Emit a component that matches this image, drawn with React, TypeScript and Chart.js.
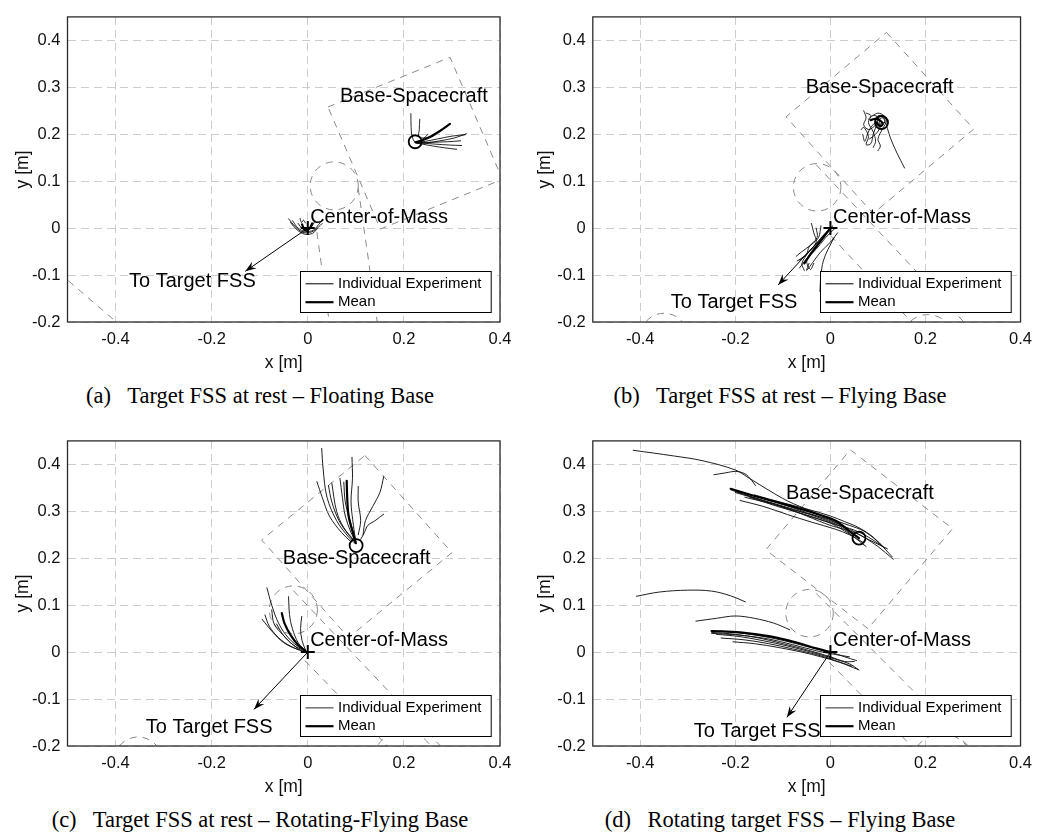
import React, { useEffect, useRef } from "react";
import { Chart, registerables } from "chart.js";

Chart.register(...registerables);

type P = [number, number];
type Circ = [number, number, number];

// ---------- shared axes ----------
const X_TICKS = [-0.4, -0.2, 0, 0.2, 0.4];
const Y_TICKS = [-0.2, -0.1, 0, 0.1, 0.2, 0.3, 0.4];
const X_RANGE: P = [-0.5, 0.4];
const Y_RANGE: P = [-0.2, 0.45];
const COM: P = [0, 0];

// ---------- panel (a) : Target FSS at rest – Floating Base ----------
const aBaseSquare: P[] = [[0.042, 0.258], [0.296, 0.364], [0.405, 0.104], [0.151, -0.002], [0.042, 0.258]];
const aLinkLeft: P[] = [[0.019, -0.009], [0.046, -0.21]];
const aLinkRight: P[] = [[0.105, 0.085], [0.146, -0.21]];
const aTargetEdge: P[] = [[-0.56, -0.058], [-0.38, -0.216]];
const aCircles: Circ[] = [[0.055, 0.09, 0.05]];
const aBaseRuns: P[][] = [
  [[0.328, 0.199], [0.3, 0.196], [0.27, 0.19], [0.245, 0.185], [0.226, 0.182]],
  [[0.33, 0.201], [0.305, 0.192], [0.275, 0.186], [0.25, 0.182], [0.228, 0.181]],
  [[0.32, 0.176], [0.295, 0.177], [0.265, 0.179], [0.24, 0.181], [0.226, 0.182]],
  [[0.31, 0.168], [0.285, 0.171], [0.26, 0.175], [0.238, 0.179], [0.225, 0.181]],
  [[0.318, 0.186], [0.29, 0.184], [0.26, 0.183], [0.235, 0.182]],
  [[0.2146, 0.244], [0.215, 0.215], [0.217, 0.195], [0.222, 0.184]],
  [[0.233, 0.232], [0.232, 0.21], [0.231, 0.195], [0.24, 0.192], [0.26, 0.196]],
  [[0.25, 0.2], [0.24, 0.19], [0.228, 0.184]],
];
const aBaseMean: P[] = [[0.296, 0.222], [0.275, 0.207], [0.252, 0.193], [0.235, 0.186], [0.224, 0.183]];
const aComRuns: P[][] = [
  [[-0.04, 0.02], [-0.026, 0.003], [-0.01, -0.009], [0.008, -0.008], [0.022, 0.002], [0.03, 0.01]],
  [[-0.032, 0.016], [-0.02, 0.0], [-0.005, -0.007], [0.012, -0.004], [0.026, 0.012]],
  [[-0.036, 0.012], [-0.022, -0.004], [-0.006, -0.013], [0.01, -0.011], [0.02, -0.001]],
  [[-0.016, 0.021], [-0.013, 0.012], [-0.009, 0.017], [-0.005, 0.011]],
  [[-0.02, 0.01], [-0.01, -0.002], [0.005, 0.0], [0.015, 0.015]],
];
const aComMean: P[] = [[-0.012, 0.008], [-0.006, -0.004], [0.003, -0.002], [0.009, 0.01]];
const aBaseMarker: P = [0.2235, 0.184];
const aArrowTip: P = [-0.13, -0.092];

// ---------- panel (b) : Target FSS at rest – Flying Base ----------
const bBaseSquare: P[] = [[0.118, 0.417], [0.3015, 0.211], [0.09, 0.031], [-0.0935, 0.237], [0.118, 0.417]];
const bLinkUpper: P[] = [[-0.03, 0.135], [0.29, -0.21]];
const bLinkLower: P[] = [[0.0, -0.016], [0.18, -0.21]];
const bCircles: Circ[] = [[-0.028, 0.087, 0.05], [-0.35, -0.232, 0.05], [0.205, -0.24, 0.055]];
const bBaseRuns: P[][] = [
  [[0.07, 0.25], [0.075, 0.235], [0.07, 0.22], [0.08, 0.21], [0.09, 0.215], [0.1, 0.225]],
  [[0.075, 0.245], [0.085, 0.24], [0.08, 0.225], [0.09, 0.205], [0.095, 0.185], [0.09, 0.172]],
  [[0.12, 0.23], [0.11, 0.24], [0.095, 0.235], [0.1, 0.22], [0.115, 0.225], [0.12, 0.212], [0.127, 0.19], [0.14, 0.16], [0.156, 0.128]],
  [[0.068, 0.2], [0.072, 0.185], [0.078, 0.2], [0.085, 0.215], [0.1, 0.23], [0.11, 0.235], [0.115, 0.228]],
  [[0.09, 0.24], [0.1, 0.245], [0.112, 0.24], [0.118, 0.228], [0.11, 0.212], [0.1, 0.19], [0.105, 0.175], [0.1, 0.165]],
  [[0.065, 0.21], [0.07, 0.215], [0.08, 0.195], [0.075, 0.178], [0.085, 0.18], [0.09, 0.2], [0.098, 0.222]],
  [[0.095, 0.23], [0.105, 0.238], [0.115, 0.232], [0.108, 0.218], [0.096, 0.22], [0.1, 0.228]],
  [[0.08, 0.232], [0.09, 0.24], [0.1, 0.236], [0.104, 0.215], [0.095, 0.2], [0.082, 0.19]],
];
const bBaseMean: P[] = [[0.085, 0.23], [0.095, 0.233], [0.105, 0.229], [0.11, 0.222], [0.105, 0.217], [0.098, 0.224]];
const bComRuns: P[][] = [
  [[0.01, 0.0], [-0.01, -0.02], [-0.03, -0.045], [-0.05, -0.065], [-0.065, -0.085]],
  [[0.005, 0.005], [-0.015, -0.015], [-0.035, -0.04], [-0.055, -0.06], [-0.07, -0.07]],
  [[-0.04, 0.01], [-0.035, -0.01], [-0.03, -0.03], [-0.045, -0.05], [-0.06, -0.075], [-0.055, -0.09]],
  [[0.015, -0.01], [0.0, -0.03], [-0.02, -0.05], [-0.035, -0.07], [-0.05, -0.09], [-0.045, -0.075]],
  [[-0.02, 0.005], [-0.025, -0.02], [-0.04, -0.035], [-0.06, -0.05], [-0.072, -0.06]],
  [[0.008, -0.02], [-0.005, -0.045], [-0.015, -0.07], [-0.02, -0.1], [-0.022, -0.135]],
  [[0.0, 0.0], [-0.02, -0.025], [-0.04, -0.05], [-0.05, -0.07], [-0.042, -0.088], [-0.035, -0.075]],
  [[-0.03, 0.0], [-0.028, -0.02], [-0.045, -0.04], [-0.05, -0.055], [-0.065, -0.068]],
];
const bComMean: P[] = [[0.0, 0.0], [-0.015, -0.02], [-0.03, -0.04], [-0.045, -0.06], [-0.055, -0.075]];
const bBaseMarker: P = [0.1075, 0.225];
const bArrowTip: P = [-0.11, -0.121];

// ---------- panel (c) : Target FSS at rest – Rotating-Flying Base ----------
const cBaseSquare: P[] = [[0.119, 0.419], [0.3, 0.212], [0.085, 0.031], [-0.096, 0.239], [0.119, 0.419]];
const cLinkUpper: P[] = [[-0.03, 0.131], [0.29, -0.215]];
const cLinkLower: P[] = [[-0.006, -0.018], [0.18, -0.215]];
const cCircles: Circ[] = [[-0.03, 0.09, 0.05], [-0.353, -0.232, 0.05], [0.2, -0.235, 0.065]];
const cBaseRuns: P[][] = [
  [[0.029, 0.434], [0.032, 0.39], [0.04, 0.33], [0.06, 0.28], [0.085, 0.245], [0.098, 0.232]],
  [[0.092, 0.415], [0.093, 0.37], [0.09, 0.32], [0.095, 0.27], [0.1, 0.235]],
  [[0.019, 0.363], [0.03, 0.33], [0.045, 0.29], [0.07, 0.255], [0.09, 0.235]],
  [[0.043, 0.355], [0.05, 0.32], [0.065, 0.28], [0.085, 0.25], [0.1, 0.232]],
  [[0.067, 0.37], [0.072, 0.33], [0.078, 0.29], [0.09, 0.255], [0.1, 0.235]],
  [[0.105, 0.353], [0.105, 0.32], [0.11, 0.28], [0.105, 0.25]],
  [[0.158, 0.374], [0.15, 0.34], [0.135, 0.31], [0.12, 0.28], [0.115, 0.25]],
  [[0.158, 0.294], [0.14, 0.28], [0.125, 0.27], [0.118, 0.255], [0.11, 0.24]],
  [[0.05, 0.36], [0.06, 0.3], [0.075, 0.265], [0.095, 0.24]],
  [[0.075, 0.362], [0.078, 0.32], [0.088, 0.28], [0.098, 0.245]],
];
const cBaseMean: P[] = [[0.081, 0.365], [0.082, 0.33], [0.085, 0.29], [0.095, 0.25], [0.1, 0.232]];
const cComRuns: P[][] = [
  [[-0.085, 0.137], [-0.075, 0.1], [-0.06, 0.06], [-0.04, 0.03], [-0.015, 0.008], [0, 0]],
  [[-0.04, 0.118], [-0.038, 0.08], [-0.032, 0.05], [-0.02, 0.02], [-0.005, 0.003]],
  [[-0.089, 0.079], [-0.08, 0.055], [-0.06, 0.03], [-0.035, 0.012], [-0.01, 0.002]],
  [[-0.0125, 0.076], [-0.015, 0.05], [-0.012, 0.025], [-0.005, 0.005]],
  [[-0.075, 0.09], [-0.07, 0.06], [-0.05, 0.035], [-0.03, 0.015], [-0.008, 0.003]],
  [[-0.065, 0.06], [-0.05, 0.035], [-0.03, 0.015], [-0.01, 0.0]],
  [[-0.095, 0.07], [-0.075, 0.045], [-0.05, 0.02], [-0.02, 0.005]],
];
const cComMean: P[] = [[-0.054, 0.083], [-0.048, 0.06], [-0.035, 0.035], [-0.02, 0.015], [-0.005, 0.003]];
const cBaseMarker: P = [0.1006, 0.227];
const cArrowTip: P = [-0.112, -0.122];

// ---------- panel (d) : Rotating target FSS – Flying Base ----------
const dBaseSquare: P[] = [[0.042, 0.431], [0.257, 0.263], [0.079, 0.05], [-0.136, 0.218], [0.042, 0.431]];
const dLinkUpper: P[] = [[-0.03, 0.125], [0.3, -0.21]];
const dLinkLower: P[] = [[-0.003, -0.021], [0.18, -0.21]];
const dCircles: Circ[] = [[-0.044, 0.083, 0.05], [0.235, -0.24, 0.065]];
const dBaseRuns: P[][] = [
  [[-0.415, 0.43], [-0.33, 0.418], [-0.27, 0.408], [-0.2, 0.388], [-0.17, 0.37], [-0.13, 0.345], [-0.09, 0.322], [-0.04, 0.3], [0.0, 0.282], [0.03, 0.265], [0.06, 0.242]],
  [[-0.245, 0.378], [-0.22, 0.382], [-0.2, 0.385], [-0.18, 0.38], [-0.165, 0.365], [-0.158, 0.355]],
  [[-0.21, 0.348], [-0.15, 0.33], [-0.1, 0.315], [-0.05, 0.297], [0.0, 0.28], [0.04, 0.262], [0.07, 0.245], [0.1, 0.225], [0.132, 0.198]],
  [[-0.21, 0.346], [-0.15, 0.325], [-0.1, 0.31], [-0.05, 0.29], [0.0, 0.27], [0.05, 0.255], [0.08, 0.24], [0.12, 0.22]],
  [[-0.2, 0.34], [-0.14, 0.322], [-0.09, 0.305], [-0.04, 0.288], [0.01, 0.272], [0.05, 0.26], [0.08, 0.245], [0.11, 0.225]],
  [[-0.19, 0.323], [-0.14, 0.31], [-0.09, 0.293], [-0.04, 0.277], [0.01, 0.262], [0.04, 0.25], [0.07, 0.233]],
  [[-0.18, 0.33], [-0.12, 0.315], [-0.06, 0.298], [0.0, 0.283], [0.04, 0.27], [0.07, 0.258], [0.1, 0.235], [0.13, 0.203]],
  [[-0.16, 0.335], [-0.1, 0.318], [-0.05, 0.305], [0.0, 0.29], [0.03, 0.278], [0.06, 0.265], [0.09, 0.245], [0.115, 0.22]],
  [[-0.2, 0.342], [-0.13, 0.32], [-0.07, 0.302], [-0.02, 0.285], [0.02, 0.268], [0.05, 0.245], [0.075, 0.225]],
  [[-0.17, 0.33], [-0.11, 0.31], [-0.05, 0.292], [0.0, 0.275], [0.03, 0.258], [0.05, 0.245]],
];
const dBaseMean: P[] = [[-0.21, 0.348], [-0.15, 0.33], [-0.086, 0.312], [-0.03, 0.295], [0.011, 0.28], [0.046, 0.253], [0.06, 0.243]];
const dComRuns: P[][] = [
  [[-0.408, 0.119], [-0.36, 0.128], [-0.3, 0.132], [-0.25, 0.13], [-0.21, 0.12], [-0.179, 0.107]],
  [[-0.283, 0.066], [-0.24, 0.072], [-0.2, 0.077], [-0.16, 0.072], [-0.12, 0.062], [-0.086, 0.048]],
  [[-0.25, 0.046], [-0.2, 0.042], [-0.15, 0.035], [-0.1, 0.025], [-0.05, 0.012], [0.0, 0.0], [0.03, -0.01], [0.055, -0.018]],
  [[-0.25, 0.042], [-0.2, 0.038], [-0.15, 0.03], [-0.1, 0.018], [-0.05, 0.005], [0.0, -0.01], [0.03, -0.02], [0.05, -0.02]],
  [[-0.24, 0.038], [-0.19, 0.033], [-0.14, 0.024], [-0.09, 0.013], [-0.04, 0.0], [0.0, -0.012], [0.04, -0.025], [0.06, -0.038]],
  [[-0.23, 0.03], [-0.18, 0.026], [-0.13, 0.018], [-0.08, 0.007], [-0.03, -0.005], [0.01, -0.018], [0.045, -0.03]],
  [[-0.205, 0.022], [-0.16, 0.018], [-0.11, 0.01], [-0.06, 0.0], [-0.02, -0.01], [0.02, -0.022], [0.058, -0.037]],
  [[-0.25, 0.04], [-0.19, 0.036], [-0.13, 0.028], [-0.08, 0.016], [-0.03, 0.003], [0.01, -0.005], [0.04, -0.01]],
];
const dComMean: P[] = [[-0.25, 0.045], [-0.19, 0.042], [-0.13, 0.034], [-0.07, 0.02], [-0.03, 0.008], [0.0, 0.0]];
const dBaseMarker: P = [0.06, 0.243];
const dArrowTip: P = [-0.0915, -0.139];

// ---------- text ----------
const LABEL_BASE = "Base-Spacecraft";
const LABEL_COM = "Center-of-Mass";
const LABEL_TARGET = "To Target FSS";
const LEGEND_LABELS = ["Individual Experiment", "Mean"];

// ---------- style ----------
const SANS = "'Liberation Sans', Arial, Helvetica, sans-serif";
const SERIF = "'Liberation Serif', 'Times New Roman', Times, serif";
const GRID = "#cdcdcd";
const SHAPE = "#8a8a8a";
const TXT = "#111";

interface PanelCfg {
  tag: string;
  caption: string;
  left: number;
  top: number;
  yAxisWidth: number;
  rightPad: number;
  yTitlePad: number;
  outlines: P[][];
  circles: Circ[];
  baseRuns: P[][];
  baseMean: P[];
  comRuns: P[][];
  comMean: P[];
  baseMarker: P;
  arrowTip: P;
  baseLabel: P;
  comLabel: P;
  targetLabel: P;
  runColor: string;
  runWidth: number;
  legendRunColor: string;
  legendRunWidth: number;
}

const PANELS: PanelCfg[] = [
  {
    tag: "(a)", caption: "Target FSS at rest – Floating Base",
    left: 0, top: 0, yAxisWidth: 67.5, rightPad: 20, yTitlePad: 12.8,
    outlines: [aBaseSquare, aLinkLeft, aLinkRight, aTargetEdge], circles: aCircles,
    baseRuns: aBaseRuns, baseMean: aBaseMean, comRuns: aComRuns, comMean: aComMean,
    baseMarker: aBaseMarker, arrowTip: aArrowTip,
    baseLabel: [0.067, 0.281], comLabel: [0.005, 0.022], targetLabel: [-0.372, -0.113],
    runColor: "#000", runWidth: 0.85, legendRunColor: "#000", legendRunWidth: 1,
  },
  {
    tag: "(b)", caption: "Target FSS at rest – Flying Base",
    left: 520, top: 0, yAxisWidth: 72.8, rightPad: 13.3, yTitlePad: 14.8,
    outlines: [bBaseSquare, bLinkUpper, bLinkLower], circles: bCircles,
    baseRuns: bBaseRuns, baseMean: bBaseMean, comRuns: bComRuns, comMean: bComMean,
    baseMarker: bBaseMarker, arrowTip: bArrowTip,
    baseLabel: [-0.052, 0.299], comLabel: [0.0056, 0.022], targetLabel: [-0.336, -0.158],
    runColor: "#000", runWidth: 0.85, legendRunColor: "#000", legendRunWidth: 1,
  },
  {
    tag: "(c)", caption: "Target FSS at rest – Rotating-Flying Base",
    left: 0, top: 424, yAxisWidth: 67.5, rightPad: 20, yTitlePad: 12.8,
    outlines: [cBaseSquare, cLinkUpper, cLinkLower], circles: cCircles,
    baseRuns: cBaseRuns, baseMean: cBaseMean, comRuns: cComRuns, comMean: cComMean,
    baseMarker: cBaseMarker, arrowTip: cArrowTip,
    baseLabel: [-0.052, 0.199], comLabel: [0.005, 0.024], targetLabel: [-0.337, -0.16],
    runColor: "#141414", runWidth: 0.95, legendRunColor: "#7a7a7a", legendRunWidth: 1.6,
  },
  {
    tag: "(d)", caption: "Rotating target FSS – Flying Base",
    left: 520, top: 424, yAxisWidth: 72.8, rightPad: 13.3, yTitlePad: 14.8,
    outlines: [dBaseSquare, dLinkUpper, dLinkLower], circles: dCircles,
    baseRuns: dBaseRuns, baseMean: dBaseMean, comRuns: dComRuns, comMean: dComMean,
    baseMarker: dBaseMarker, arrowTip: dArrowTip,
    baseLabel: [-0.0935, 0.338], comLabel: [0.0056, 0.024], targetLabel: [-0.2875, -0.17],
    runColor: "#141414", runWidth: 0.95, legendRunColor: "#7a7a7a", legendRunWidth: 1.6,
  },
];

const CANVAS_W = 520;
const CANVAS_H = 380;

const toXY = (pts: P[]) => pts.map(([x, y]) => ({ x, y }));
const fmt = (v: number | string) => String(Math.round(Number(v) * 10) / 10);

function buildConfig(cfg: PanelCfg): any {
  const datasets: any[] = [];
  cfg.outlines.forEach((o) =>
    datasets.push({
      data: toXY(o), showLine: true, pointRadius: 0, borderColor: SHAPE, borderWidth: 1,
      borderDash: [7, 6], clip: 0, tension: 0, order: 5,
    })
  );
  const run = (pts: P[], color: string, width: number, order: number) => ({
    data: toXY(pts), showLine: true, pointRadius: 0, borderColor: color, borderWidth: width,
    tension: 0.35, order, borderCapStyle: "round", borderJoinStyle: "round",
  });
  cfg.baseRuns.forEach((r) => datasets.push(run(r, cfg.runColor, cfg.runWidth, 4)));
  cfg.comRuns.forEach((r) => datasets.push(run(r, cfg.runColor, cfg.runWidth, 4)));
  datasets.push(run(cfg.baseMean, "#000", 2.2, 3));
  datasets.push(run(cfg.comMean, "#000", 2.2, 3));
  datasets.push({
    data: toXY([COM, cfg.arrowTip]), showLine: true, pointRadius: 0, borderColor: "#000",
    borderWidth: 1, tension: 0, order: 2,
  });
  datasets.push({
    data: toXY([cfg.baseMarker]), showLine: false, pointStyle: "circle", pointRadius: 6.5,
    pointBorderWidth: 1.8, pointBorderColor: "#000", borderColor: "#000",
    pointBackgroundColor: "rgba(0,0,0,0)", backgroundColor: "rgba(0,0,0,0)", order: 1,
  });
  datasets.push({
    data: toXY([COM]), showLine: false, pointStyle: "cross", pointRadius: 7,
    pointBorderWidth: 2, pointBorderColor: "#000", borderColor: "#000", order: 1,
  });

  const overlay = {
    id: "overlay",
    beforeDatasetsDraw(chart: any) {
      const { ctx, chartArea: a, scales } = chart;
      const xs = scales.x, ys = scales.y;
      ctx.save();
      ctx.beginPath();
      ctx.rect(a.left, a.top, a.right - a.left, a.bottom - a.top);
      ctx.clip();
      ctx.setLineDash([7, 6]);
      ctx.strokeStyle = SHAPE;
      ctx.lineWidth = 1;
      cfg.circles.forEach(([cx, cy, r]) => {
        const px = xs.getPixelForValue(cx);
        const py = ys.getPixelForValue(cy);
        const pr = Math.abs(xs.getPixelForValue(cx + r) - px);
        ctx.beginPath();
        ctx.arc(px, py, pr, 0, Math.PI * 2);
        ctx.stroke();
      });
      ctx.restore();
    },
    afterDatasetsDraw(chart: any) {
      const { ctx, scales } = chart;
      const xs = scales.x, ys = scales.y;
      ctx.save();
      // arrow head
      const x0 = xs.getPixelForValue(COM[0]), y0 = ys.getPixelForValue(COM[1]);
      const tx = xs.getPixelForValue(cfg.arrowTip[0]), ty = ys.getPixelForValue(cfg.arrowTip[1]);
      const ang = Math.atan2(ty - y0, tx - x0);
      const L = 11, W = 4;
      const c = Math.cos(ang), s = Math.sin(ang);
      ctx.fillStyle = "#000";
      ctx.beginPath();
      ctx.moveTo(tx, ty);
      ctx.lineTo(tx - L * c + W * s, ty - L * s - W * c);
      ctx.lineTo(tx - 0.65 * L * c, ty - 0.65 * L * s);
      ctx.lineTo(tx - L * c - W * s, ty - L * s + W * c);
      ctx.closePath();
      ctx.fill();
      // text labels
      ctx.fillStyle = "#000";
      ctx.font = `20px ${SANS}`;
      ctx.textAlign = "left";
      ctx.textBaseline = "middle";
      const put = (t: string, p: P) => ctx.fillText(t, xs.getPixelForValue(p[0]), ys.getPixelForValue(p[1]));
      put(LABEL_BASE, cfg.baseLabel);
      put(LABEL_COM, cfg.comLabel);
      put(LABEL_TARGET, cfg.targetLabel);
      ctx.restore();
    },
    afterDraw(chart: any) {
      const { ctx, chartArea: a } = chart;
      ctx.save();
      // legend
      const bw = 190.7, bh = 41;
      const bx = Math.round(a.right - 9.5 - bw) + 0.5;
      const by = Math.round(a.bottom - 10.5 - bh) + 0.5;
      ctx.fillStyle = "#fff";
      ctx.fillRect(bx, by, bw, bh);
      ctx.strokeStyle = "#000";
      ctx.lineWidth = 1;
      ctx.strokeRect(bx, by, bw, bh);
      const rows = [by + 12.3, by + 30.7];
      ctx.beginPath();
      ctx.strokeStyle = cfg.legendRunColor;
      ctx.lineWidth = cfg.legendRunWidth;
      ctx.moveTo(bx + 5, rows[0]);
      ctx.lineTo(bx + 33, rows[0]);
      ctx.stroke();
      ctx.beginPath();
      ctx.strokeStyle = "#000";
      ctx.lineWidth = 2.2;
      ctx.moveTo(bx + 5, rows[1]);
      ctx.lineTo(bx + 33, rows[1]);
      ctx.stroke();
      ctx.fillStyle = "#000";
      ctx.font = `15px ${SANS}`;
      ctx.textAlign = "left";
      ctx.textBaseline = "middle";
      ctx.fillText(LEGEND_LABELS[0], bx + 37.5, rows[0]);
      ctx.fillText(LEGEND_LABELS[1], bx + 37.5, rows[1]);
      // frame
      ctx.strokeStyle = "#2b2b2b";
      ctx.lineWidth = 1.3;
      ctx.strokeRect(a.left, a.top, a.right - a.left, a.bottom - a.top);
      ctx.restore();
    },
  };

  const gridOpts = { color: GRID, lineWidth: 1, drawTicks: false, tickLength: 0, borderDash: [8, 5] };
  const borderOpts = { display: false, dash: [8, 5] };

  return {
    type: "scatter",
    data: { datasets },
    options: {
      responsive: false,
      animation: false,
      devicePixelRatio: 1,
      events: [],
      layout: { padding: { left: 0, right: cfg.rightPad, top: 9.3, bottom: 0 } },
      plugins: { legend: { display: false }, tooltip: { enabled: false } },
      scales: {
        x: {
          type: "linear",
          min: X_RANGE[0],
          max: X_RANGE[1],
          afterBuildTicks: (s: any) => { s.ticks = X_TICKS.map((v) => ({ value: v })); },
          afterFit: (s: any) => { s.height = 58; },
          grid: gridOpts,
          border: borderOpts,
          ticks: { padding: 8, color: TXT, font: { family: SANS, size: 16.5 }, callback: fmt, maxRotation: 0, autoSkip: false },
          title: { display: true, text: "x [m]", color: TXT, font: { family: SANS, size: 17.5 }, padding: { top: 0, bottom: 6 } },
        },
        y: {
          type: "linear",
          min: Y_RANGE[0],
          max: Y_RANGE[1],
          afterBuildTicks: (s: any) => { s.ticks = Y_TICKS.map((v) => ({ value: v })); },
          afterFit: (s: any) => { s.width = cfg.yAxisWidth; },
          grid: gridOpts,
          border: borderOpts,
          ticks: { padding: 7, color: TXT, font: { family: SANS, size: 16.5 }, callback: fmt, autoSkip: false },
          title: { display: true, text: "y [m]", color: TXT, font: { family: SANS, size: 17.5 }, padding: { top: cfg.yTitlePad, bottom: 0 } },
        },
      },
    },
    plugins: [overlay],
  };
}

function Panel({ cfg }: { cfg: PanelCfg }) {
  const ref = useRef<HTMLCanvasElement>(null);
  useEffect(() => {
    if (!ref.current) return;
    const chart = new Chart(ref.current, buildConfig(cfg));
    return () => chart.destroy();
  }, [cfg]);
  return (
    <>
      <canvas
        ref={ref}
        width={CANVAS_W}
        height={CANVAS_H}
        style={{ position: "absolute", left: cfg.left, top: cfg.top, width: CANVAS_W, height: CANVAS_H, display: "block" }}
      />
      <div
        style={{
          position: "absolute", left: cfg.left, top: cfg.top + 382, width: 520, textAlign: "center",
          fontFamily: SERIF, fontSize: 22.5, lineHeight: "27px", color: "#000", whiteSpace: "nowrap",
        }}
      >
        <span style={{ marginRight: 11 }}>{cfg.tag}</span> {cfg.caption}
      </div>
    </>
  );
}

export default function App() {
  return (
    <div style={{ position: "absolute", left: 0, top: 0, width: 1040, height: 832, background: "#fff", overflow: "hidden" }}>
      {PANELS.map((p) => (
        <Panel key={p.tag} cfg={p} />
      ))}
    </div>
  );
}
